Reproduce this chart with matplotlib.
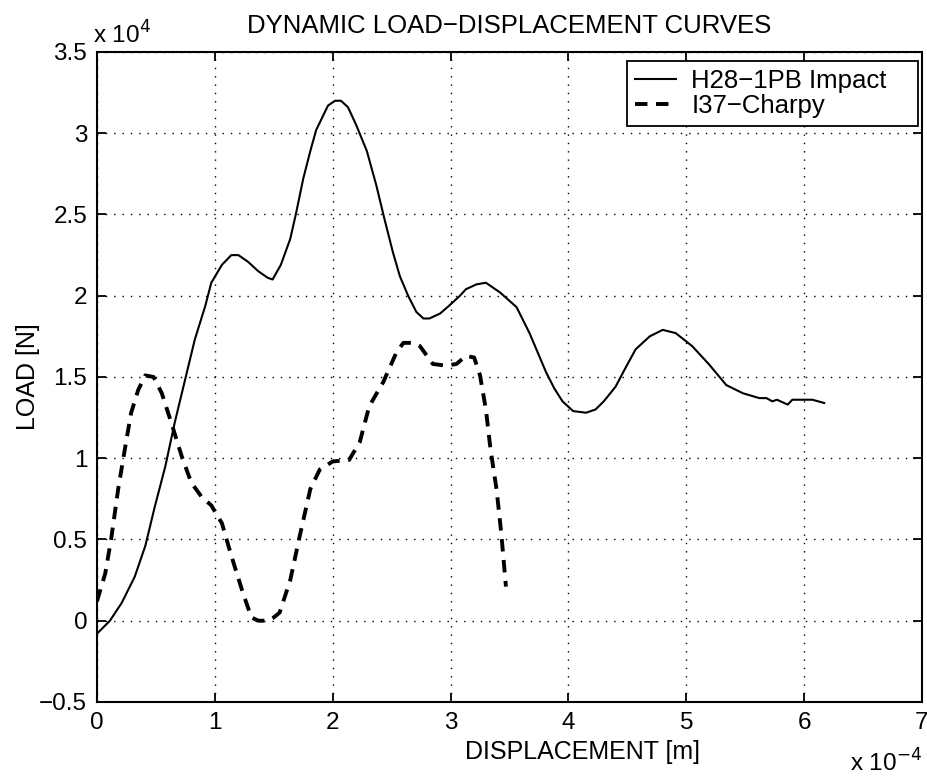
import matplotlib
matplotlib.use("Agg")
import matplotlib.pyplot as plt

# Displacement in units of 1e-4 m, load in units of 1e4 N
h28_disp = [0.0, 0.11, 0.21, 0.32, 0.41, 0.49, 0.58, 0.66, 0.75, 0.83, 0.92, 0.97, 1.06, 1.14,
            1.20, 1.28, 1.37, 1.45, 1.49, 1.56, 1.64, 1.69, 1.75, 1.81, 1.86, 1.92, 1.96, 2.02,
            2.07, 2.13, 2.20, 2.29, 2.37, 2.44, 2.51, 2.57, 2.64, 2.71, 2.77, 2.82, 2.91, 2.99,
            3.08, 3.13, 3.22, 3.30, 3.42, 3.56, 3.67, 3.74, 3.81, 3.88, 3.95, 4.04, 4.15, 4.23,
            4.30, 4.40, 4.48, 4.57, 4.69, 4.80, 4.91, 5.05, 5.19, 5.34, 5.48, 5.62, 5.68, 5.73,
            5.77, 5.80, 5.86, 5.90, 6.07, 6.17]
h28_load = [-0.08, 0.0, 0.11, 0.27, 0.46, 0.70, 0.95, 1.22, 1.49, 1.73, 1.94, 2.08, 2.19, 2.25,
            2.25, 2.21, 2.15, 2.11, 2.10, 2.19, 2.35, 2.51, 2.72, 2.89, 3.02, 3.11, 3.17, 3.20,
            3.20, 3.16, 3.05, 2.89, 2.68, 2.47, 2.27, 2.12, 2.00, 1.90, 1.86, 1.86, 1.89, 1.94,
            2.00, 2.04, 2.07, 2.08, 2.02, 1.93, 1.77, 1.65, 1.53, 1.43, 1.35, 1.29, 1.28, 1.30,
            1.35, 1.44, 1.55, 1.67, 1.75, 1.79, 1.77, 1.69, 1.58, 1.45, 1.40, 1.37, 1.37, 1.35,
            1.36, 1.35, 1.33, 1.36, 1.36, 1.34]

i37_disp = [0.0, 0.07, 0.12, 0.18, 0.24, 0.29, 0.35, 0.41, 0.48, 0.55, 0.63, 0.72, 0.80, 0.89,
            0.97, 1.06, 1.14, 1.23, 1.31, 1.37, 1.44, 1.50, 1.55, 1.64, 1.72, 1.81, 1.89, 2.00,
            2.14, 2.23, 2.31, 2.43, 2.54, 2.60, 2.68, 2.74, 2.85, 2.96, 3.05, 3.13, 3.20, 3.25,
            3.30, 3.34, 3.39, 3.43, 3.47]
i37_load = [0.12, 0.29, 0.50, 0.81, 1.07, 1.28, 1.42, 1.51, 1.50, 1.40, 1.22, 1.01, 0.85, 0.76,
            0.71, 0.60, 0.40, 0.19, 0.02, 0.0, 0.0, 0.02, 0.05, 0.25, 0.52, 0.81, 0.93, 0.98,
            0.99, 1.10, 1.32, 1.47, 1.65, 1.71, 1.71, 1.69, 1.58, 1.57, 1.58, 1.63, 1.62, 1.51,
            1.30, 1.05, 0.81, 0.54, 0.21]

x_ticks = [0, 1, 2, 3, 4, 5, 6, 7]
y_ticks = [-0.5, 0, 0.5, 1, 1.5, 2, 2.5, 3, 3.5]
y_tick_labels = ["\u22120.5", "0", "0.5", "1", "1.5", "2", "2.5", "3", "3.5"]

plt.rcParams['font.family'] = ['Liberation Sans', 'DejaVu Sans']

fig = plt.figure(figsize=(9.27, 7.76), dpi=100)
ax = fig.add_axes([0.1046, 0.0954, 0.8900, 0.8376])

ax.plot(h28_disp, h28_load, color='black', lw=1.5, solid_joinstyle='round',
        label='H28\u22121PB Impact')
ax.plot(i37_disp, i37_load, color='black', lw=2.8, linestyle=(0, (3.2, 2.2)),
        dash_capstyle='butt', label='I37\u2212Charpy')

ax.set_xlim(0, 7)
ax.set_ylim(-0.5, 3.5)
ax.set_xticks(x_ticks)
ax.set_xticklabels([str(t) for t in x_ticks])
ax.set_yticks(y_ticks)
ax.set_yticklabels(y_tick_labels)
ax.grid(True, color='black', linestyle=(0, (1, 5)), linewidth=1.0)
ax.tick_params(direction='in', length=6.5, width=1.3, top=True, right=True,
               labelsize=17.5, pad=7)
for s in ax.spines.values():
    s.set_linewidth(1.5)

ax.set_xlabel('DISPLACEMENT [m]', fontsize=18)
ax.xaxis.set_label_coords(0.589, -0.077)
ax.xaxis.label.set_va('center')
ax.set_ylabel('LOAD [N]', fontsize=18)
ax.yaxis.set_label_coords(-0.0836, 0.5)
ax.yaxis.label.set_va('center')
ax.set_title('DYNAMIC LOAD\u2212DISPLACEMENT CURVES', fontsize=18.5, pad=14)

ax.text(-0.005, 1.013, r'x 10$^{4}$', transform=ax.transAxes, fontsize=17.5,
        ha='left', va='baseline')
ax.text(1.0, -0.107, r'x 10$^{-4}$', transform=ax.transAxes, fontsize=17.5,
        ha='right', va='baseline')

leg = ax.legend(loc='upper right', bbox_to_anchor=(0.6424, 0.5, 0.3527, 0.486),
                mode='expand', fontsize=18.5,
                frameon=True, fancybox=False, edgecolor='black', framealpha=1,
                handlelength=1.6, handletextpad=0.6, borderaxespad=0.0,
                borderpad=0.3, labelspacing=0.05)
leg.get_frame().set_linewidth(1.3)

fig.savefig('out.png', dpi=100)
